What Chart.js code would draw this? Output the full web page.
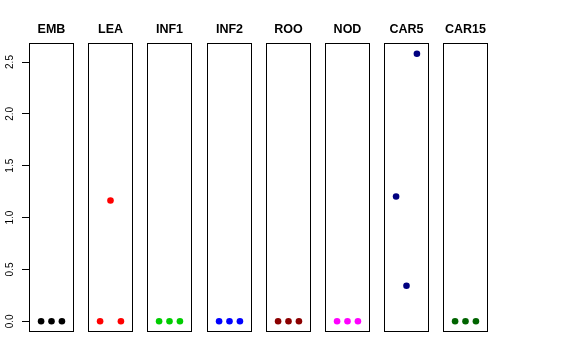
<!DOCTYPE html>
<html>
<head>
<meta charset="utf-8">
<script src="https://cdn.jsdelivr.net/npm/chart.js@4"></script>
<style>
  html, body { margin: 0; padding: 0; background: #fff; }
  #wrap { position: relative; width: 576px; height: 360px; background: #fff; overflow: hidden; }
  canvas { position: absolute; top: 0; }
</style>
</head>
<body>
<div id="wrap"></div>
<script>
// ---- data ----
const categories = ['EMB', 'LEA', 'INF1', 'INF2', 'ROO', 'NOD', 'CAR5', 'CAR15'];
const replicates = [1, 2, 3];
const EMB   = [0, 0, 0];
const LEA   = [0, 1.165, 0];
const INF1  = [0, 0, 0];
const INF2  = [0, 0, 0];
const ROO   = [0, 0, 0];
const NOD   = [0, 0, 0];
const CAR5  = [1.203, 0.342, 2.58];
const CAR15 = [0, 0, 0];
const seriesValues = [EMB, LEA, INF1, INF2, ROO, NOD, CAR5, CAR15];
const seriesColors = ['#000000', '#FF0000', '#00CD00', '#0000FF', '#8B0000', '#FF00FF', '#000080', '#006400'];
const yTickValues = [0, 0.5, 1.0, 1.5, 2.0, 2.5];
const yTickLabels = ['0.0', '0.5', '1.0', '1.5', '2.0', '2.5'];

// ---- layout ----
const Y_MIN = -0.1032, Y_MAX = 2.6832;
const X_MIN = -0.16, X_MAX = 4.16;
const AXIS_W = 29;
const PANEL_W = 45;
const CANVAS_H = 332;

const boxPlugin = {
  id: 'panelBox',
  beforeDatasetsDraw(chart) {
    const a = chart.chartArea;
    const ctx = chart.ctx;
    ctx.save();
    ctx.strokeStyle = '#000';
    ctx.lineWidth = 1;
    ctx.strokeRect(a.left + 0.5, a.top + 0.5, a.right - a.left - 1, a.bottom - a.top - 1);
    ctx.restore();
  }
};

const wrap = document.getElementById('wrap');
categories.forEach((cat, i) => {
  const first = i === 0;
  const boxLeft = Math.round(29 + i * 59.2);
  const cv = document.createElement('canvas');
  const w = first ? AXIS_W + PANEL_W : PANEL_W;
  cv.width = w; cv.height = CANVAS_H;
  cv.style.width = w + 'px'; cv.style.height = CANVAS_H + 'px';
  cv.style.left = (first ? 0 : boxLeft) + 'px';
  wrap.appendChild(cv);

  new Chart(cv, {
    type: 'scatter',
    data: {
      datasets: [{
        data: replicates.map((x, k) => ({ x: x, y: seriesValues[i][k] })),
        backgroundColor: seriesColors[i],
        borderColor: seriesColors[i],
        borderWidth: 0,
        pointRadius: 3.3,
        pointHoverRadius: 3.3
      }]
    },
    options: {
      responsive: false,
      animation: false,
      devicePixelRatio: 1,
      layout: { padding: 0, autoPadding: false },
      plugins: {
        legend: { display: false },
        tooltip: { enabled: false },
        title: {
          display: true,
          text: cat,
          fullSize: false,
          color: '#000',
          font: { family: 'Liberation Sans, Arial, sans-serif', size: 12.5, weight: 'bold', lineHeight: 1.2 },
          padding: { top: 22.5, bottom: 5.5 }
        }
      },
      scales: {
        x: {
          type: 'linear', min: X_MIN, max: X_MAX, display: false
        },
        y: {
          type: 'linear', min: Y_MIN, max: Y_MAX,
          display: first,
          afterFit(scale) {
            scale.width = first ? AXIS_W : 0;
            scale.paddingTop = 0;
            scale.paddingBottom = 0;
          },
          afterBuildTicks(scale) { scale.ticks = yTickValues.map(v => ({ value: v })); },
          border: { display: false },
          grid: { drawOnChartArea: false, drawTicks: true, tickLength: 7, color: '#000', lineWidth: 1 },
          ticks: {
            minRotation: 90, maxRotation: 90,
            crossAlign: 'center',
            padding: 5,
            color: '#000',
            font: { family: 'Liberation Sans, Arial, sans-serif', size: 10 },
            callback(value) {
              const idx = yTickValues.indexOf(value);
              return idx >= 0 ? yTickLabels[idx] : '';
            }
          }
        }
      }
    },
    plugins: [boxPlugin]
  });
});
</script>
</body>
</html>
